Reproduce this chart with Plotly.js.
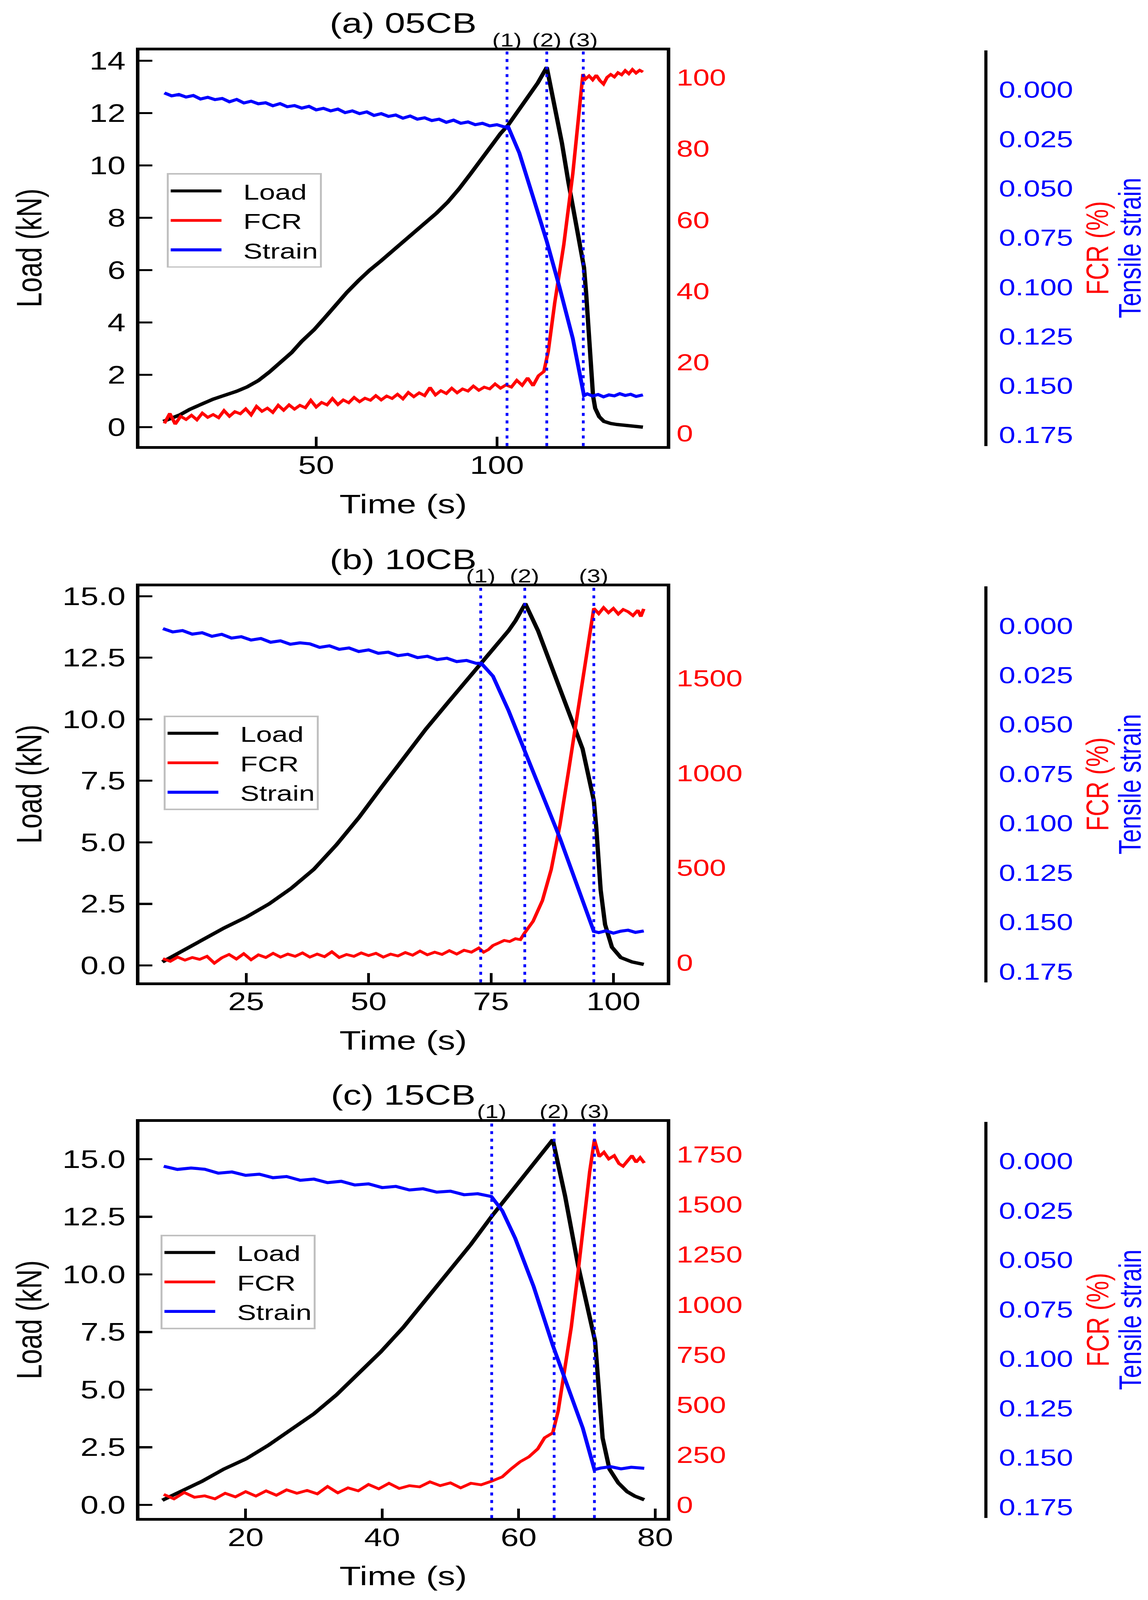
<!DOCTYPE html>
<html>
<head>
<meta charset="utf-8">
<script src="https://cdn.plot.ly/plotly-3.0.1.min.js"></script>
<style>html,body{margin:0;padding:0;background:#fff;overflow:hidden;}#chart{position:absolute;left:0;top:0;width:2939px;height:5313px;transform-origin:0 0;}</style>
</head>
<body>
<div id="chart"></div>
<script>
// ---------------- DATA ----------------
const panelTitles = ["(a) 05CB", "(b) 10CB", "(c) 15CB"];
const eventLabels = ["(1)", "(2)", "(3)"];
const seriesNames = ["Load", "FCR", "Strain"];

// Panel (a) 05CB
const tLoadA = [7.7,10,12.3,15,18.5,21.5,24.7,28,30.9,34,37,40,43.2,46,49.4,52.5,55.6,58.5,61.7,64.8,67.9,71,74.1,77,80.2,83.3,86.4,89.5,92.6,95.7,98.8,101,103.1,106,108.6,111.3,113.8,116,118,119.8,122,124.1,124.7,125.4,126,126.6,127.2,128.3,129.6,131.5,133.3,137,140.4];
const loadA  = [0.22,0.35,0.47,0.68,0.91,1.07,1.22,1.37,1.54,1.78,2.1,2.45,2.85,3.28,3.72,4.2,4.72,5.15,5.6,6.0,6.35,6.72,7.1,7.44,7.8,8.18,8.6,9.1,9.66,10.25,10.85,11.22,11.54,12.1,12.6,13.15,13.75,12.2,10.85,9.35,7.7,6.1,5.1,3.5,2.0,1.2,0.72,0.4,0.22,0.14,0.1,0.05,0.0];
const tFcrA = [8,9.5,11,12.5,14,15.5,17,18.5,20,21.5,23,24.5,26,27.5,29,30.5,32,33.5,35,36.5,38,39.5,41,42.5,44,45.5,47,48.5,50,51.5,53,54.5,56,57.5,59,60.5,62,63.5,65,66.5,68,69.5,71,72.5,74,75.5,77,78.5,80,81.5,83,84.5,86,87.5,89,90.5,92,93.5,95,96.5,98,99.5,101,102.5,104,105.5,107,108.5,110,111.5,113,114.2,116,118.5,121,122.8,123.8,124.5,125.5,126.5,127.5,128.5,129.5,130.5,131.5,132.5,133.5,134.5,135.5,136.5,137.5,138.5,139.5,140.4];
const fcrA  = [2.8,5.6,2.6,4.8,3.9,5.1,3.8,5.7,4.5,5.3,4.4,6.4,4.8,6.1,5.5,6.9,5.2,7.6,6.2,7.1,5.9,7.9,6.5,8.0,6.8,7.9,7.2,9.3,7.4,8.7,8.0,9.8,8.1,9.4,8.6,10.1,8.9,9.9,9.3,10.6,9.4,10.5,9.8,11.0,9.7,11.5,10.3,11.4,10.6,12.9,10.8,12.0,11.2,12.7,11.4,12.5,11.9,13.3,12.1,13.0,12.5,13.9,12.7,13.6,13.0,14.9,13.5,15.6,13.4,16.2,17.4,23,36.7,53,73,92,101,99.6,100.5,99.4,100.7,99.2,98.2,100.1,100.9,100.2,101.4,100.8,102.0,101.1,102.3,101.3,102.1,101.6];
const tStrainA = [8,10,12,14,16,18,20,22,24,26,28,30,32,34,36,38,40,42,44,46,48,50,52,54,56,58,60,62,64,66,68,70,72,74,76,78,80,82,84,86,88,90,92,94,96,98,100,102,103.1,106.2,109.9,113.8,117.3,121,124.1,125,126.5,128,129.5,131,132.5,134,135.5,137,138.5,140.4];
const strainA  = [0.0016,0.0031,0.0024,0.0037,0.0029,0.0047,0.0038,0.0050,0.0044,0.0061,0.0049,0.0067,0.0058,0.0071,0.0066,0.0081,0.0070,0.0086,0.0080,0.0093,0.0084,0.0102,0.0094,0.0107,0.0098,0.0116,0.0107,0.0121,0.0112,0.0130,0.0121,0.0135,0.0128,0.0144,0.0133,0.0149,0.0142,0.0156,0.0149,0.0165,0.0154,0.0170,0.0163,0.0177,0.0170,0.0183,0.0177,0.0188,0.0187,0.032,0.0537,0.0768,0.0999,0.126,0.155,0.1541,0.1552,0.1544,0.1556,0.1546,0.1551,0.1540,0.1549,0.1543,0.1554,0.1546];
const eventsA = [102.8, 113.8, 123.9];

// Panel (b) 10CB
const tLoadB = [7.9,11.4,15.9,20.5,25.1,29.7,34.2,38.8,43.4,48,52.5,57.1,61.7,66.3,70.8,73.1,75.4,78.6,80,82,84.6,89.1,93.7,96,96.5,97.4,98.3,99.7,101.5,103.8,106.2];
const loadB  = [0.14,0.53,1.03,1.52,1.97,2.5,3.13,3.9,4.89,6.0,7.2,8.4,9.6,10.7,11.77,12.33,12.82,13.6,14.0,14.7,13.6,11.2,8.8,6.7,5.6,3.06,1.66,0.74,0.32,0.14,0.04];
const tFcrB = [8,9.5,11,12.5,14,15.5,17,18.5,20,21.5,23,24.5,26,27.5,29,30.5,32,33.5,35,36.5,38,39.5,41,42.5,44,45.5,47,48.5,50,51.5,53,54.5,56,57.5,59,60.5,62,63.5,65,66.5,68,69.5,71,72.5,73.5,74.5,75.4,76.5,77.7,78.8,80,81,81.8,83.6,85.5,87.3,89.1,90.9,92.8,94.6,96,97,98,99,100,101,102,103,104,105,105.6,106.2];
const fcrB  = [22,8,30,14,28,18,34,-2,26,44,20,48,16,42,28,50,30,46,34,52,30,46,32,58,28,44,34,52,38,50,30,46,36,54,40,62,42,56,44,64,46,66,56,78,56,70,91,104,118,112,127,122,155,219,328,492,729,1020,1330,1640,1868,1840,1872,1845,1868,1838,1862,1850,1830,1858,1825,1865];
const tStrainB = [8,10,12,14,16,18,20,22,24,26,28,30,32,34,36,38,40,42,44,46,48,50,52,54,56,58,60,62,64,66,68,70,72,73,75.4,78.6,82,84.6,89.1,93.7,96,97,98.5,100,101.5,103,104.5,106.2];
const strainB  = [0.0014,0.0031,0.0024,0.0042,0.0035,0.0053,0.0043,0.0062,0.0055,0.0072,0.0064,0.0083,0.0076,0.0093,0.0086,0.0091,0.0109,0.0101,0.0119,0.0112,0.0130,0.0122,0.0139,0.0133,0.0151,0.0144,0.0161,0.0154,0.0171,0.0164,0.0181,0.0175,0.0190,0.0189,0.0255,0.043,0.064,0.0796,0.1076,0.139,0.1547,0.1553,0.1544,0.1556,0.1546,0.1541,0.1552,0.1545];
const eventsB = [72.9, 81.9, 96.0];

// Panel (c) 15CB
const tLoadC = [7.8,10.3,13.6,16.8,20.1,23.4,26.7,30,33.3,36.5,39.8,43.1,46.4,49.7,53,56,58.2,60.8,63.5,65,66.8,68.7,71.2,71.7,72.3,73.3,74.6,75.9,77,78.4];
const loadC  = [0.2,0.57,1.02,1.55,2.0,2.6,3.27,3.95,4.77,5.67,6.64,7.7,8.9,10.1,11.3,12.5,13.3,14.3,15.27,15.84,13.4,10.4,7.1,5.14,2.9,1.55,0.95,0.57,0.38,0.22];
const tFcrC = [8,9.5,11,12.5,14,15.5,17,18.5,20,21.5,23,24.5,26,27.5,29,30.5,32,33.5,35,36.5,38,39.5,41,42.5,44,45.5,47,48.5,50,51.5,53,54.5,56,57.6,58.9,60.2,61.5,62.8,63.8,65,65.8,66.8,67.7,68.7,69.7,70.4,71.1,71.8,72.5,73.2,74,74.7,75.3,76,76.6,77.2,77.8,78.4];
const fcrC  = [52,30,62,38,45,30,58,40,66,44,70,48,75,58,72,55,92,60,85,70,102,80,108,82,96,90,115,96,110,85,108,100,118,140,180,215,240,280,335,360,471,679,886,1162,1456,1663,1824,1740,1762,1728,1745,1705,1692,1722,1745,1712,1735,1708];
const tStrainC = [8,10,12,14,16,18,20,22,24,26,28,30,32,34,36,38,40,42,44,46,48,50,52,54,56,57.6,59.5,62.2,65,67.4,69.4,71.1,72,73.5,75,76.5,78.4];
const strainC  = [0.0025,0.0041,0.0034,0.0040,0.0060,0.0054,0.0071,0.0065,0.0083,0.0077,0.0096,0.0090,0.0108,0.0101,0.0120,0.0114,0.0133,0.0127,0.0145,0.0139,0.0156,0.0151,0.0169,0.0164,0.0178,0.025,0.039,0.0634,0.0931,0.1158,0.135,0.156,0.1552,0.1545,0.1556,0.1548,0.1553];
const eventsC = [56.05, 65.2, 71.1];

// Axis ticks
const xTicksA = [50, 100], xTicksB = [25, 50, 75, 100], xTicksC = [20, 40, 60, 80];
const loadTicksA = [0, 2, 4, 6, 8, 10, 12, 14];
const loadTicksBC = [0, 2.5, 5, 7.5, 10, 12.5, 15];
const fcrTicksA = [0, 20, 40, 60, 80, 100];
const fcrTicksB = [0, 500, 1000, 1500];
const fcrTicksC = [0, 250, 500, 750, 1000, 1250, 1500, 1750];
const strainTicks = [0, 0.025, 0.05, 0.075, 0.1, 0.125, 0.15, 0.175];

// ---------------- LAYOUT ----------------
const W = 2939, H = 5313;           // figure drawn at the reference size
const FONT = 'Liberation Sans, Arial, Helvetica, sans-serif';
const px = v => v / W;
const py = v => 1 - v / H;
const boxL = 357, boxR = 1707, strainX = 2524;

// fit the figure into whatever viewport the page gets
const chartDiv = document.getElementById('chart');
const vw = window.innerWidth || W, vh = window.innerHeight || H;
chartDiv.style.transform = 'scale(' + (vw / W) + ',' + (vh / H) + ')';

const panels = [
  {top:167, bottom:1481, xr:[1.1,147], lr:[-0.72,14.4], fr:[-3.55,107.7], xt:xTicksA, lt:loadTicksA, lf:'', ft:fcrTicksA,
   tl:tLoadA, l:loadA, tf:tFcrA, f:fcrA, ts:tStrainA, s:strainA, ev:eventsA, legTop:575, legLeft:427},
  {top:1947, bottom:3262, xr:[3.2,110.9], lr:[-0.69,15.40], fr:[-103,1984], xt:xTicksB, lt:loadTicksBC, lf:'.1f', ft:fcrTicksB,
   tl:tLoadB, l:loadB, tf:tFcrB, f:fcrB, ts:tStrainB, s:strainB, ev:eventsB, legTop:2376, legLeft:419},
  {top:3725, bottom:5041, xr:[4.44,81.7], lr:[-0.575,16.62], fr:[-66,1914], xt:xTicksC, lt:loadTicksBC, lf:'.1f', ft:fcrTicksC,
   tl:tLoadC, l:loadC, tf:tFcrC, f:fcrC, ts:tStrainC, s:strainC, ev:eventsC, legTop:4100, legLeft:411}
];

const traces = [];
const layout = {
  width: W, height: H,
  margin: {l:0, r:0, t:0, b:0},
  paper_bgcolor: '#ffffff', plot_bgcolor: 'rgba(0,0,0,0)',
  font: {family: FONT, color: '#000000'},
  showlegend: true,
  shapes: [], annotations: []
};

panels.forEach((p, i) => {
  const xn = i === 0 ? 'x' : 'x' + (i + 1);
  const yL = i === 0 ? 'y' : 'y' + (3 * i + 1);
  const yF = 'y' + (3 * i + 2);
  const yS = 'y' + (3 * i + 3);
  const ax = n => n.replace('x', 'xaxis').replace(/^y/, 'yaxis');
  const leg = i === 0 ? 'legend' : 'legend' + (i + 1);
  const dom = [py(p.bottom), py(p.top)];

  layout[ax(xn)] = {
    domain: [px(boxL), px(boxR)], range: p.xr, anchor: yL,
    showline: true, mirror: true, linecolor: '#000', linewidth: 9,
    ticks: 'inside', ticklen: 31, tickwidth: 7, tickcolor: '#000',
    tickmode: 'array', tickvals: p.xt, tickfont: {size: 83, family: FONT, color: '#000'},
    ticklabelstandoff: -16, showgrid: false, zeroline: false
  };
  layout[ax(yL)] = {
    domain: dom, range: p.lr, anchor: xn,
    showline: true, mirror: true, linecolor: '#000', linewidth: 9,
    ticks: 'inside', ticklen: 33, tickwidth: 7, tickcolor: '#000',
    tickmode: 'array', tickvals: p.lt, tickformat: p.lf, tickfont: {size: 83, family: FONT, color: '#000'},
    ticklabelstandoff: 10, showgrid: false, zeroline: false
  };
  layout[ax(yF)] = {
    overlaying: yL, side: 'right', anchor: xn, range: p.fr,
    showline: false, ticks: '', tickmode: 'array', tickvals: p.ft,
    tickfont: {size: 76, family: FONT, color: '#ff0000'},
    ticklabelstandoff: 24, showgrid: false, zeroline: false
  };
  layout[ax(yS)] = {
    overlaying: yL, side: 'right', anchor: 'free', position: px(strainX), range: [0.1805, -0.0200],
    showline: true, linecolor: '#000', linewidth: 8, ticks: '', tickmode: 'array', tickvals: strainTicks,
    tickformat: '.3f', tickfont: {size: 76, family: FONT, color: '#0000ff'},
    ticklabelstandoff: 14, showgrid: false, zeroline: false
  };

  const pad = '\u2002\u2009';
  traces.push({x: p.tl, y: p.l, xaxis: xn, yaxis: yL, mode: 'lines', name: pad + seriesNames[0], legend: leg,
               line: {color: '#000000', width: 11}});
  traces.push({x: p.tf, y: p.f, xaxis: xn, yaxis: yF, mode: 'lines', name: pad + seriesNames[1], legend: leg,
               line: {color: '#ff0000', width: 9}});
  traces.push({x: p.ts, y: p.s, xaxis: xn, yaxis: yS, mode: 'lines', name: pad + seriesNames[2], legend: leg,
               line: {color: '#0000ff', width: 10}});

  layout[leg] = {
    x: px(p.legLeft), y: py(p.legTop), xanchor: 'left', yanchor: 'top',
    bgcolor: '#ffffff', bordercolor: '#c0c0c0', borderwidth: 5,
    font: {size: 73, family: FONT, color: '#000'}, itemwidth: 130,
    traceorder: 'normal', tracegroupgap: 0
  };

  p.ev.forEach((t, k) => {
    layout.shapes.push({type: 'line', xref: xn, yref: yL + ' domain', x0: t, x1: t, y0: 0, y1: 1,
      line: {color: '#0000ff', width: 7, dash: '10px,15px'}, layer: 'above'});
    layout.annotations.push({xref: xn, yref: yL + ' domain', x: t, y: 1, yanchor: 'bottom', xanchor: 'center',
      text: eventLabels[k], showarrow: false, font: {size: 62, family: FONT, color: '#000'}, yshift: -2});
  });

  const cy = (p.top + p.bottom) / 2;
  layout.annotations.push({xref: 'paper', yref: 'paper', x: px((boxL + boxR) / 2), y: py(p.top - 90),
    text: panelTitles[i], showarrow: false, xanchor: 'center', yanchor: 'middle', font: {size: 94, family: FONT, color: '#000'}});
  layout.annotations.push({xref: 'paper', yref: 'paper', x: px(75), y: py(cy), textangle: -90,
    text: 'Load (kN)', showarrow: false, xanchor: 'center', yanchor: 'middle', font: {size: 90, family: FONT, color: '#000'}});
  layout.annotations.push({xref: 'paper', yref: 'paper', x: px((boxL + boxR) / 2), y: py(p.bottom + 192),
    text: 'Time (s)', showarrow: false, xanchor: 'center', yanchor: 'middle', font: {size: 90, family: FONT, color: '#000'}});
  layout.annotations.push({xref: 'paper', yref: 'paper', x: px(2810), y: py(cy), textangle: -90,
    text: 'FCR (%)', showarrow: false, xanchor: 'center', yanchor: 'middle', font: {size: 80, family: FONT, color: '#ff0000'}});
  layout.annotations.push({xref: 'paper', yref: 'paper', x: px(2893), y: py(cy), textangle: -90,
    text: 'Tensile strain', showarrow: false, xanchor: 'center', yanchor: 'middle', font: {size: 80, family: FONT, color: '#0000ff'}});
});

Plotly.newPlot('chart', traces, layout, {displayModeBar: false, staticPlot: true});
</script>
</body>
</html>
